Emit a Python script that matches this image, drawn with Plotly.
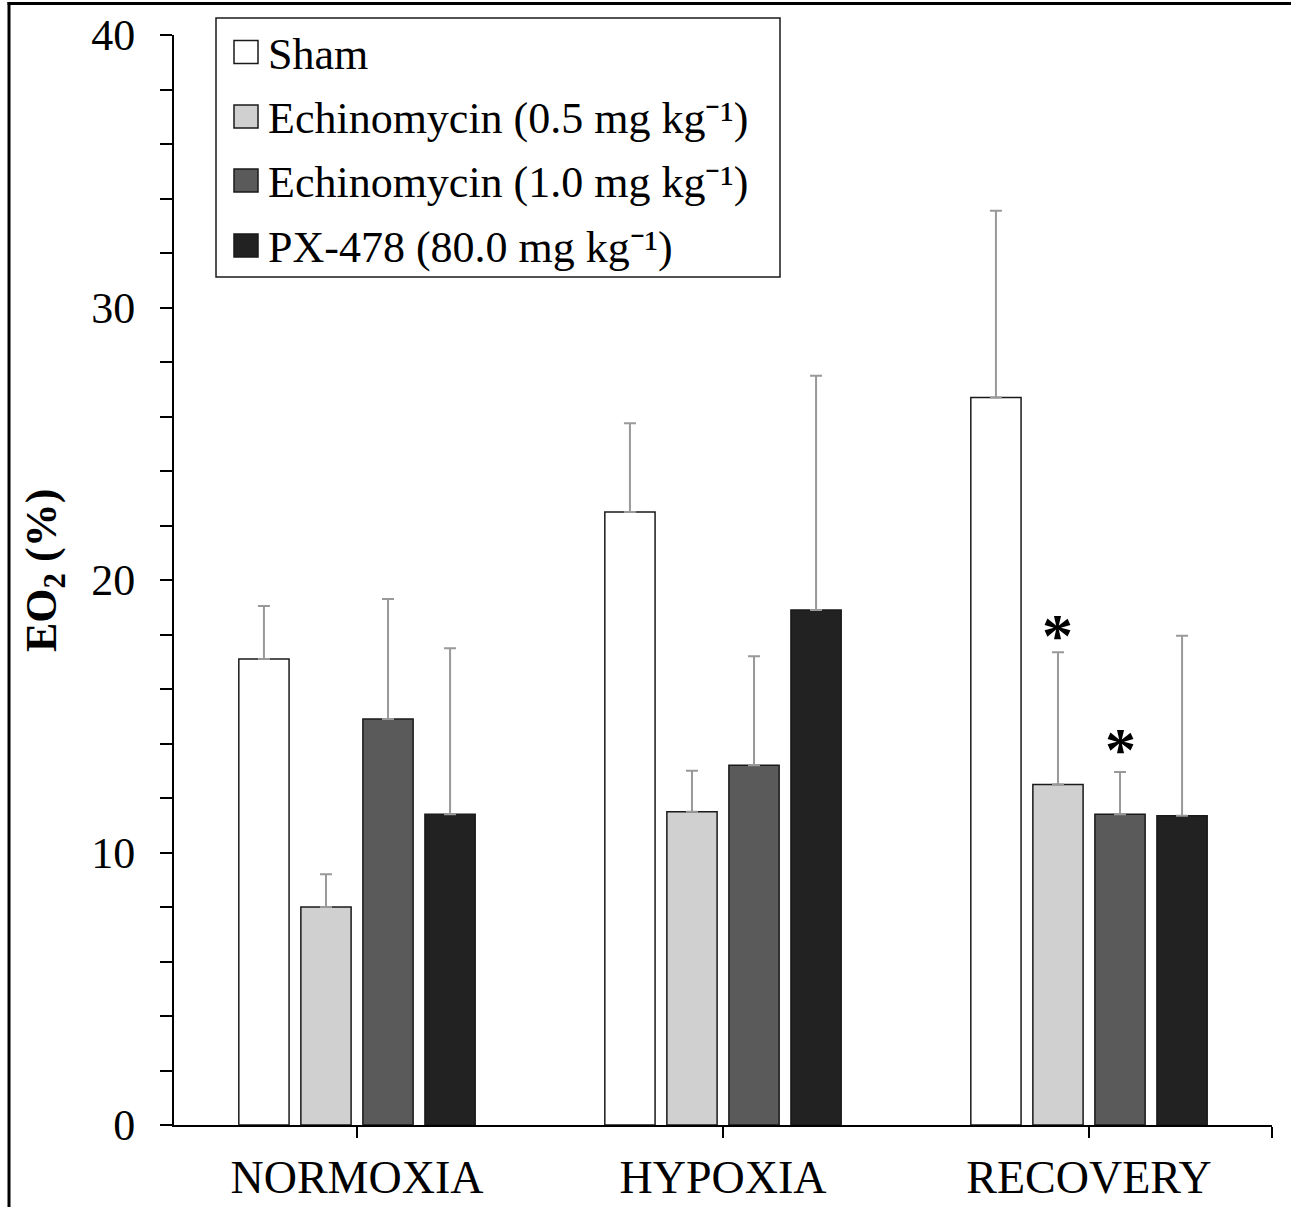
import plotly.graph_objects as go

# ---- data ----
categories = ["NORMOXIA", "HYPOXIA", "RECOVERY"]
series_names = ["Sham",
                "Echinomycin (0.5 mg kg\u207b\u00b9)",
                "Echinomycin (1.0 mg kg\u207b\u00b9)",
                "PX-478 (80.0 mg kg\u207b\u00b9)"]
sham = [17.1, 22.5, 26.7]
echi_05 = [8.0, 11.5, 12.5]
echi_10 = [14.9, 13.2, 11.4]
px478 = [11.4, 18.9, 11.35]
sham_err = [1.95, 3.25, 6.85]
echi_05_err = [1.2, 1.5, 4.85]
echi_10_err = [4.4, 4.0, 1.55]
px478_err = [6.1, 8.6, 6.6]
colors = ["#ffffff", "#d1d0d1", "#5a5a5a", "#222222"]
y_ticks = [0, 10, 20, 30, 40]
# significance markers: (category index, series index, y value)
sig_marks = [(2, 1, 18.0), (2, 2, 13.8)]

values = [sham, echi_05, echi_10, px478]
errors = [sham_err, echi_05_err, echi_10_err, px478_err]

FONT = "Liberation Serif, Times New Roman, serif"
W, H = 1291, 1207
ML, MR, MT, MB = 174, 19, 35, 82
PW, PH = W - ML - MR, H - MT - MB

def px_x(p):
    return (p - ML) / PW

def px_y(p):
    return (H - MB - p) / PH

BARGAP = 0.322
GROUPGAP = 0.19
pitch = (1 - BARGAP) / len(values)

fig = go.Figure()
x_pos = list(range(len(categories)))
for name, vals, errs, col in zip(series_names, values, errors, colors):
    fig.add_trace(go.Bar(
        x=x_pos, y=vals, name=name, showlegend=False,
        marker=dict(color=col, line=dict(color="#1a1a1a", width=1.5)),
        error_y=dict(type="data", symmetric=False, array=errs,
                     arrayminus=[0] * len(errs), color="#999999",
                     thickness=2, width=6),
    ))

annotations = []
for ci, si, yv in sig_marks:
    annotations.append(dict(
        x=ci + (si - (len(values) - 1) / 2) * pitch, y=yv, xref="x", yref="y",
        text="<b>*</b>", showarrow=False, yanchor="middle",
        font=dict(family=FONT, size=62, color="black")))

# y-axis title
annotations.append(dict(
    x=px_x(44), y=px_y(571), xref="paper", yref="paper",
    text="<b>EO<sub>2</sub> (%)</b>", textangle=-90, showarrow=False,
    xanchor="center", yanchor="middle",
    font=dict(family=FONT, size=44, color="black")))

shapes = []
# outer frame (top and left edges visible)
shapes.append(dict(type="line", xref="paper", yref="paper",
                   x0=px_x(7.5), x1=px_x(1295), y0=px_y(3.5), y1=px_y(3.5),
                   line=dict(color="black", width=3), layer="above"))
shapes.append(dict(type="line", xref="paper", yref="paper",
                   x0=px_x(9), x1=px_x(9), y0=px_y(2), y1=px_y(1215),
                   line=dict(color="black", width=3), layer="above"))
# legend box
shapes.append(dict(type="rect", xref="paper", yref="paper",
                   x0=px_x(216), x1=px_x(780), y0=px_y(277), y1=px_y(18),
                   line=dict(color="#1a1a1a", width=1.5), fillcolor="white",
                   layer="above"))
rows = [52, 116.5, 180.5, 245.5]
for name, col, ry in zip(series_names, colors, rows):
    shapes.append(dict(type="rect", xref="paper", yref="paper",
                       x0=px_x(234), x1=px_x(258), y0=px_y(ry + 11.5), y1=px_y(ry - 11.5),
                       line=dict(color="#1a1a1a", width=1.5), fillcolor=col,
                       layer="above"))
    annotations.append(dict(
        x=px_x(266), y=px_y(ry + 2), xref="paper", yref="paper",
        text=name, showarrow=False, xanchor="left", yanchor="middle",
        font=dict(family=FONT, size=44, color="black")))

fig.update_layout(
    width=W, height=H,
    margin=dict(l=ML, r=MR, t=MT, b=MB, autoexpand=False),
    paper_bgcolor="white", plot_bgcolor="white",
    barmode="group", bargap=BARGAP, bargroupgap=GROUPGAP,
    font=dict(family=FONT, color="black"),
    shapes=shapes, annotations=annotations,
    showlegend=False,
)
fig.update_xaxes(
    range=[-0.5, 2.5], tickmode="array",
    tickvals=[0, 1, 2, 2.5], ticktext=categories + [""],
    ticks="outside", ticklen=11, tickwidth=1.5, tickcolor="black",
    showline=True, linecolor="black", linewidth=2,
    showgrid=False, zeroline=False, automargin=False,
    tickfont=dict(family=FONT, size=46, color="black"),
    ticklabelstandoff=0,
)
fig.update_yaxes(
    range=[0, 40], tickmode="array", tickvals=y_ticks,
    ticktext=[str(v) for v in y_ticks],
    ticks="outside", ticklen=12, tickwidth=1.5, tickcolor="black",
    minor=dict(dtick=2, ticks="outside", ticklen=12, tickwidth=1.5, tickcolor="black"),
    showline=True, linecolor="black", linewidth=2,
    showgrid=False, zeroline=False, automargin=False,
    tickfont=dict(family=FONT, size=44, color="black"),
    ticklabelstandoff=16,
)

fig.write_html("out.html")
